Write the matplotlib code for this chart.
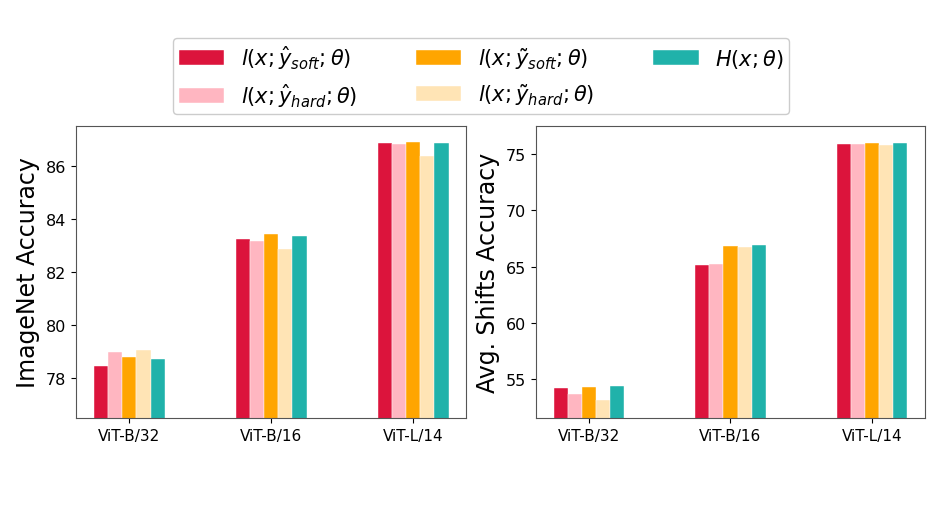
import numpy as np
import matplotlib
matplotlib.use("Agg")
import matplotlib.pyplot as plt

# model backbones on the x axis
models = ["ViT-B/32", "ViT-B/16", "ViT-L/14"]

# loss variants (legend order: column by column)
labels = [
    r"$l(x;\hat{y}_{soft};\theta)$",
    r"$l(x;\hat{y}_{hard};\theta)$",
    r"$l(x;\tilde{y}_{soft};\theta)$",
    r"$l(x;\tilde{y}_{hard};\theta)$",
    r"$H(x;\theta)$",
]
colors = ["crimson", "lightpink", "orange", "moccasin", "lightseagreen"]

# ImageNet accuracy, one list per loss variant
imagenet_soft_hat = [78.44, 83.24, 86.86]
imagenet_hard_hat = [78.97, 83.17, 86.81]
imagenet_soft_tilde = [78.81, 83.45, 86.90]
imagenet_hard_tilde = [79.06, 82.87, 86.36]
imagenet_entropy = [78.72, 83.36, 86.86]

# average accuracy over distribution shifts
shifts_soft_hat = [54.23, 65.15, 75.89]
shifts_hard_hat = [53.64, 65.20, 75.92]
shifts_soft_tilde = [54.26, 66.81, 75.98]
shifts_hard_tilde = [53.13, 66.78, 75.83]
shifts_entropy = [54.41, 66.90, 76.01]

imagenet = [imagenet_soft_hat, imagenet_hard_hat, imagenet_soft_tilde,
            imagenet_hard_tilde, imagenet_entropy]
shifts = [shifts_soft_hat, shifts_hard_hat, shifts_soft_tilde,
          shifts_hard_tilde, shifts_entropy]


def bar_panel(ax, series, ylabel, ylim, yticks):
    x = np.arange(len(models))
    width = 0.1
    for i, vals in enumerate(series):
        ax.bar(x + (i - 2) * width, vals, width, color=colors[i],
               label=labels[i], edgecolor="white", linewidth=0.3)
    ax.set_xticks(x)
    ax.set_xticklabels(models, fontsize=11)
    ax.set_ylim(*ylim)
    ax.set_yticks(yticks)
    ax.tick_params(axis="y", labelsize=11.5)
    ax.set_ylabel(ylabel, fontsize=17)
    for s in ax.spines.values():
        s.set_color("#555555")


fig = plt.figure(figsize=(9.27, 5.06), dpi=100)
ax1 = fig.add_axes([0.082, 0.172, 0.421, 0.577])
ax2 = fig.add_axes([0.578, 0.172, 0.42, 0.577])

bar_panel(ax1, imagenet, "ImageNet Accuracy", (76.5, 87.5), [78, 80, 82, 84, 86])
bar_panel(ax2, shifts, "Avg. Shifts Accuracy", (51.55, 77.5), [55, 60, 65, 70, 75])

handles, labs = ax1.get_legend_handles_labels()
fig.legend(handles, labs, loc="upper center", bbox_to_anchor=(0.519, 0.944),
           ncol=3, fontsize=15, handlelength=2.2, handleheight=0.7,
           columnspacing=2.8, borderpad=0.25, framealpha=1,
           edgecolor="#cccccc")

fig.savefig("out.png", dpi=100)
